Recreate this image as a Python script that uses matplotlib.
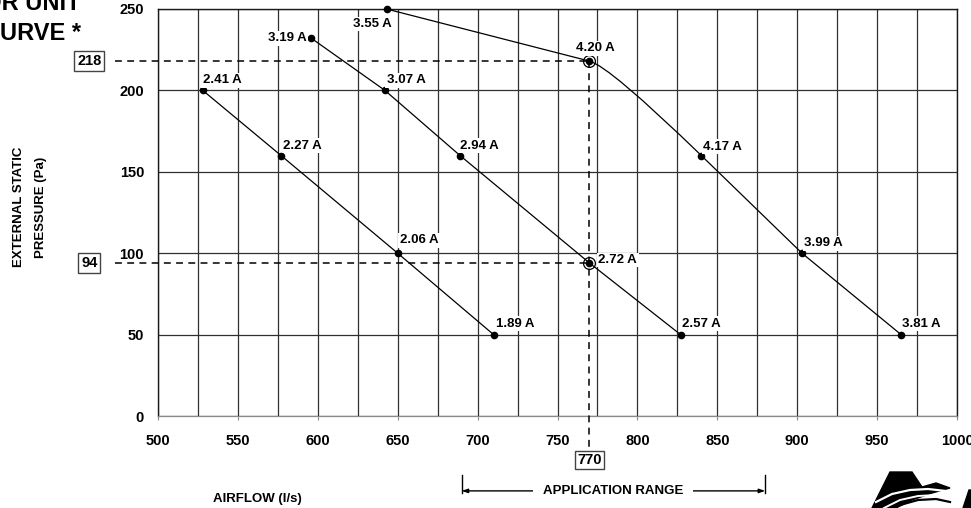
import numpy as np
import matplotlib
matplotlib.use("Agg")
import matplotlib.pyplot as plt
from matplotlib.path import Path
from matplotlib.patches import PathPatch, Polygon

plt.rcParams['font.family'] = ['Liberation Sans', 'DejaVu Sans']
plt.rcParams['font.weight'] = 'bold'

# fan curves: airflow (l/s), pressure (Pa), current
low_flow = [528, 577, 650, 710]
low_pressure = [200, 160, 100, 50]
low_amps = ['2.41 A', '2.27 A', '2.06 A', '1.89 A']

med_flow = [596, 642, 689, 770, 827]
med_pressure = [232, 200, 160, 94, 50]
med_amps = ['3.19 A', '3.07 A', '2.94 A', '2.72 A', '2.57 A']

high_flow = [643, 770, 840, 903, 965]
high_pressure = [250, 218, 160, 100, 50]
high_amps = ['3.55 A', '4.20 A', '4.17 A', '3.99 A', '3.81 A']

# operating point and application range
op_flow = 770
op_pressures = [218, 94]
app_range = [690, 880]

x_ticks = list(range(500, 1001, 50))
y_ticks = list(range(0, 251, 50))

# label offsets in pixels (dx, dy, ha)
low_offsets = [(0, 7, 'left'), (2, 7, 'left'), (2, 10, 'left'), (2, 8, 'left')]
med_offsets = [(-5, -3, 'right'), (2, 7, 'left'), (0, 7, 'left'), (9, 0, 'left'), (1, 8, 'left')]
high_offsets = [(5, -18, 'right'), (6, 10, 'center'), (2, 6, 'left'), (2, 7, 'left'), (1, 8, 'left')]

W, H = 971, 508
fig = plt.figure(figsize=(W / 100, H / 100), dpi=100)
ax = fig.add_axes([158 / W, 1 - 416 / H, (957 - 158) / W, (416 - 9) / H])
ax.set_xlim(500, 1000)
ax.set_ylim(0, 250)

# grid
ax.set_xticks(x_ticks)
ax.set_xticks(list(range(525, 1000, 50)), minor=True)
ax.set_yticks(y_ticks)
ax.grid(True, which='both', axis='x', color='#303030', lw=0.9, zorder=0)
ax.grid(True, which='major', axis='y', color='#303030', lw=0.9, zorder=0)
ax.set_axisbelow(True)
for s in ['top', 'left', 'right']:
    ax.spines[s].set_color('#1a1a1a')
    ax.spines[s].set_linewidth(1.0)
ax.spines['bottom'].set_color('#8a8a8a')
ax.spines['bottom'].set_linewidth(0.9)
ax.tick_params(axis='x', which='major', length=3, color='#8a8a8a', pad=10, labelsize=10.5)
ax.tick_params(axis='x', which='minor', length=0)
ax.tick_params(axis='y', length=0, pad=10, labelsize=10.5)
for lab in ax.get_xticklabels() + ax.get_yticklabels():
    lab.set_fontweight('bold')

# curves
ax.plot(low_flow, low_pressure, color='black', lw=0.9, zorder=3)
ax.plot(med_flow, med_pressure, color='black', lw=0.9, zorder=3)

# high speed curve: bend between 4.20 A and 4.17 A
p0, p1, p2, p3, p4 = [np.array(p, float) for p in zip(high_flow, high_pressure)]
d1 = p1 - p0
d2 = p3 - p2
t = np.cross(p2 - p0, d2) / np.cross(d1, d2)
ctrl = p0 + t * d1
verts = [p0, p1, ctrl, p2, p3, p4]
codes = [Path.MOVETO, Path.LINETO, Path.CURVE3, Path.CURVE3, Path.LINETO, Path.LINETO]
ax.add_patch(PathPatch(Path(verts, codes), fill=False, color='black', lw=0.9, zorder=3))

for fl, pr in [(low_flow, low_pressure), (med_flow, med_pressure), (high_flow, high_pressure)]:
    ax.plot(fl, pr, 'o', color='black', ms=4.5, zorder=5, clip_on=False)

# labels
for fl, pr, amps, offs in [(low_flow, low_pressure, low_amps, low_offsets),
                           (med_flow, med_pressure, med_amps, med_offsets),
                           (high_flow, high_pressure, high_amps, high_offsets)]:
    for x, y, a, (dx, dy, ha) in zip(fl, pr, amps, offs):
        ax.annotate(a, (x, y), xytext=(dx, dy), textcoords='offset pixels',
                    ha=ha, va='baseline', fontsize=9.5, fontweight='bold', zorder=6,
                    bbox=dict(facecolor='white', edgecolor='none', pad=1.0),
                    annotation_clip=False)

# operating point guides
for p in op_pressures:
    ax.plot([473, op_flow], [p, p], color='black', lw=1.1, ls=(0, (4.5, 3.5)),
            clip_on=False, zorder=4)
    ax.plot(op_flow, p, 'o', mfc='none', mec='black', ms=8.5, mew=0.9, zorder=5)
    ax.text(457, p, str(p), ha='center', va='center', fontsize=10.5, fontweight='bold',
            bbox=dict(facecolor='white', edgecolor='#444444', lw=1.0,
                      boxstyle='square,pad=0.2'))
ax.plot([op_flow, op_flow], [max(op_pressures), -19], color='black', lw=1.1,
        ls=(0, (4.5, 3.5)), clip_on=False, zorder=4)
ax.text(op_flow, -27, str(op_flow), ha='center', va='center', fontsize=10.5, fontweight='bold',
        bbox=dict(facecolor='white', edgecolor='#444444', lw=1.0, boxstyle='square,pad=0.15'))

# application range bracket
for x in app_range:
    ax.plot([x, x], [-36, -47], color='black', lw=1.0, clip_on=False)
ax.annotate('', xy=(app_range[0], -46), xytext=(app_range[1], -46),
            arrowprops=dict(arrowstyle='<|-|>,head_length=0.35,head_width=0.12',
                            color='black', lw=1.0, shrinkA=0, shrinkB=0),
            annotation_clip=False)
ax.text(sum(app_range) / 2, -46, 'APPLICATION RANGE', ha='center', va='center',
        fontsize=9.5, fontweight='bold', zorder=6,
        bbox=dict(facecolor='white', edgecolor='none', pad=7))

# axis titles
fig.text(30 / W, 1 - 207 / H, 'EXTERNAL STATIC\nPRESSURE (Pa)', rotation=90,
         ha='center', va='center', multialignment='center', fontsize=9.5,
         fontweight='bold', linespacing=2.1)
fig.text(257 / W, 1 - 499 / H, 'AIRFLOW (l/s)', ha='center', va='center',
         fontsize=9.5, fontweight='bold')

# clipped title
fig.text(81 / W, 1 - 10 / H, 'INDOOR UNIT', ha='right', va='baseline',
         fontsize=17, fontweight='bold')
fig.text(81 / W, 1 - 40 / H, 'FAN CURVE *', ha='right', va='baseline',
         fontsize=17, fontweight='bold')


# logo, bottom right corner
def px(pts):
    return [(x / W, 1 - y / H) for x, y in pts]


fig.patches.append(Polygon(px([(872, 508), (890, 472), (912, 472), (922, 487),
                               (936, 483), (950, 488), (932, 493), (912, 500),
                               (896, 508)]),
                           closed=True, color='black', transform=fig.transFigure))
for pts, lw in [([(876, 502), (892, 494), (910, 490), (928, 489), (946, 491)], 1.6),
                ([(884, 508), (900, 500), (918, 496), (936, 495), (952, 497)], 1.4)]:
    xs, ys = zip(*px(pts))
    fig.lines.append(plt.Line2D(xs, ys, color='white', lw=lw, transform=fig.transFigure))
xs, ys = zip(*px([(900, 505), (918, 500), (936, 499), (950, 502)]))
fig.lines.append(plt.Line2D(xs, ys, color='black', lw=1.6, transform=fig.transFigure))
fig.patches.append(Polygon(px([(963, 508), (969, 490), (971, 490), (971, 508)]),
                           closed=True, color='black', transform=fig.transFigure))

fig.savefig('out.png', dpi=100)
